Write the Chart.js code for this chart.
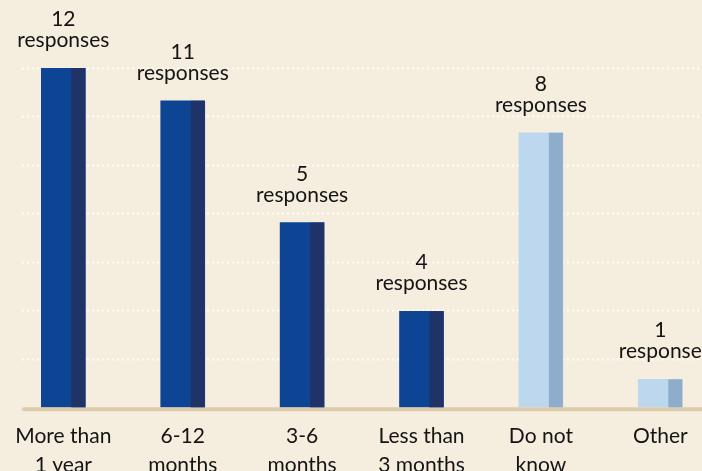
<!DOCTYPE html>
<html>
<head>
<meta charset="utf-8">
<script src="https://cdn.jsdelivr.net/npm/chart.js@4/dist/chart.umd.min.js"></script>
<style>
  html, body { margin:0; padding:0; width:702px; height:471px; overflow:hidden; background:#f5eddd; }
  #wrap { position:relative; width:720px; height:494px; }
</style>
</head>
<body>
<div id="wrap"><canvas id="grafico"></canvas></div>
<script>
const categorias = [["More than","1 year"], ["6-12","months"], ["3-6","months"], ["Less than","3 months"], ["Do not","know"], ["Other"]];
const respuestas = [12, 11, 5, 4, 8, 1];
const unidades   = ["responses","responses","responses","responses","responses","response"];
// altura de la barra tal como se ve en la imagen (no es proporcional a respuestas)
const alturas    = [12, 10.84, 6.53, 3.39, 9.71, 0.99];
const colorBarra  = ["#0d4594","#0d4594","#0d4594","#0d4594","#bdd7ee","#bdd7ee"];
const colorFranja = ["#203369","#203369","#203369","#203369","#8eadca","#8eadca"];

const FUENTE = "Lato, 'Noto Sans', sans-serif";

// ── líneas de fondo punteadas + eje base ───────────────────────────────
const fondoPlugin = {
  id: "fondo",
  beforeDatasetsDraw(chart) {
    const { ctx, scales:{ y }, width } = chart;
    ctx.save();
    ctx.strokeStyle = "rgba(255,255,255,.85)";
    ctx.lineWidth = 2;
    ctx.setLineDash([2, 3]);
    y.ticks.forEach(t => {
      if (t.value <= 0) return;
      const py = Math.round(y.getPixelForValue(t.value)) + 0.5;
      ctx.beginPath(); ctx.moveTo(22, py); ctx.lineTo(width, py); ctx.stroke();
    });
    ctx.setLineDash([]);
    ctx.strokeStyle = "#dccbad";
    ctx.lineWidth = 4;
    ctx.lineCap = "round";
    const base = y.getPixelForValue(0) + 2;
    ctx.beginPath(); ctx.moveTo(24, base); ctx.lineTo(width, base); ctx.stroke();
    ctx.restore();
  }
};

// ── franja oscura a la derecha de cada barra + etiquetas ───────────────
const barrasPlugin = {
  id: "barras",
  afterDatasetsDraw(chart) {
    const { ctx } = chart;
    const meta = chart.getDatasetMeta(0);
    ctx.save();
    meta.data.forEach((bar, i) => {
      const { x, y, base, width } = bar.getProps(["x","y","base","width"], true);
      ctx.fillStyle = colorFranja[i];
      ctx.fillRect(x + width/2 - 14, y, 14, base - y);
      ctx.fillStyle = "#141414";
      ctx.font = `21px ${FUENTE}`;
      ctx.textAlign = "center";
      ctx.textBaseline = "alphabetic";
      ctx.fillText(String(respuestas[i]), x, y - 42);
      ctx.fillText(unidades[i], x, y - 21);
    });
    ctx.restore();
  }
};

new Chart(document.getElementById("grafico"), {
  type: "bar",
  data: {
    labels: categorias,
    datasets: [{ data: alturas, backgroundColor: colorBarra, borderWidth: 0, barThickness: 44 }]
  },
  options: {
    responsive: true, maintainAspectRatio: false, animation: false,
    layout: { padding: { top: 68, left: 3, right: 0, bottom: 0 } },
    scales: {
      x: {
        offset: true,
        grid: { display:false, drawTicks:false },
        border: { display:false },
        ticks: { color:"#141414", font:{ family:FUENTE, size:21, lineHeight:1.35 }, padding:15, maxRotation:0, autoSkip:false }
      },
      y: {
        display: false, min: 0, max: 12,
        ticks: { count: 8 }
      }
    },
    plugins: { legend:{ display:false }, tooltip:{ enabled:false } }
  },
  plugins: [fondoPlugin, barrasPlugin]
});
</script>
</body>
</html>
